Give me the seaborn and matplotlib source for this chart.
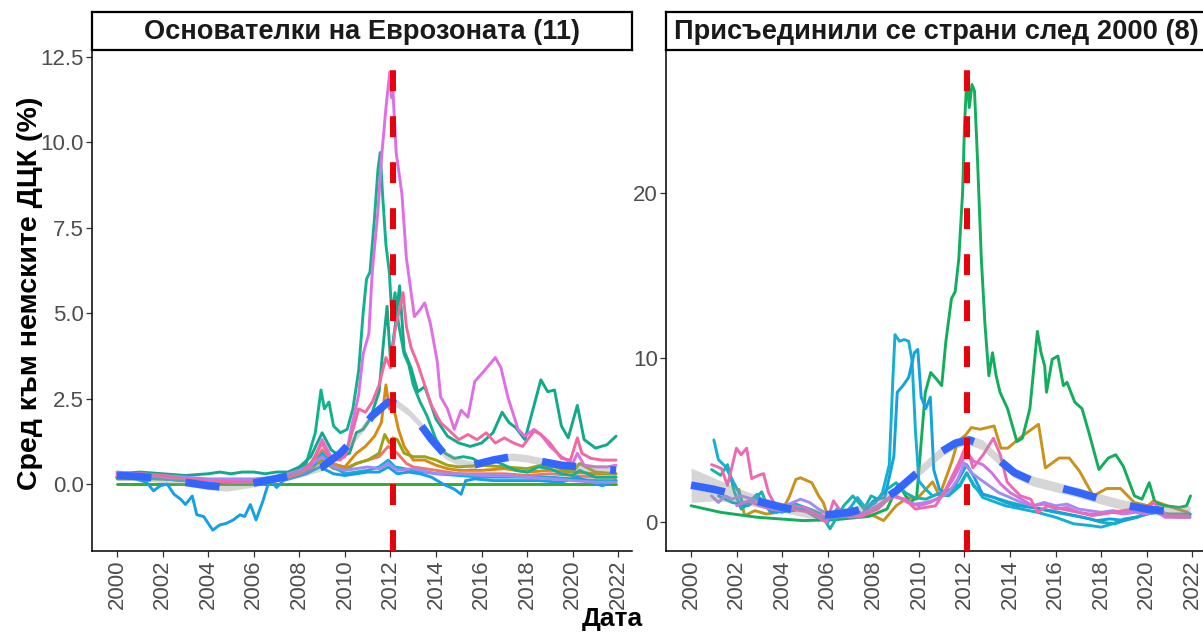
import numpy as np
import pandas as pd
import matplotlib
matplotlib.use("Agg")
import matplotlib.pyplot as plt
import seaborn as sns

# ---------------- data ----------------
x_ticks = list(range(2000, 2023, 2))
left_yticks = [0.0, 2.5, 5.0, 7.5, 10.0, 12.5]
right_yticks = [0, 10, 20]
crisis_year = 2012.1
title_left = "Основателки на Еврозоната (11)"
title_right = "Присъединили се страни след 2000 (8)"
y_label = "Сред към немските ДЦК (%)"
x_label = "Дата"

# Left panel: founding members
L_salmon_x = [2000, 2002, 2004, 2006, 2008, 2008.8, 2009.0, 2009.5, 2010, 2010.5, 2011, 2011.5, 2011.9, 2012.3, 2012.7, 2013, 2014, 2015, 2016, 2017, 2018, 2019, 2020, 2021, 2021.9]
L_salmon_y = [0.2, 0.15, 0.05, 0.05, 0.3, 0.8, 1.0, 0.6, 0.45, 0.6, 0.7, 0.8, 1.1, 0.9, 0.6, 0.5, 0.4, 0.3, 0.3, 0.3, 0.25, 0.3, 0.25, 0.2, 0.2]

L_orange_x = [2000, 2002, 2004, 2006, 2007, 2008, 2008.6, 2009.0, 2009.4, 2010, 2010.5, 2010.9, 2011.3, 2011.6, 2011.8, 2011.95, 2012.15, 2012.35, 2012.6, 2013.0, 2013.5, 2014, 2014.5, 2015, 2016, 2017, 2018, 2019, 2020, 2021, 2021.9]
L_orange_y = [0.2, 0.2, 0.1, 0.1, 0.15, 0.3, 0.5, 0.9, 0.6, 0.5, 0.9, 1.1, 1.4, 1.8, 2.9, 2.2, 2.2, 1.6, 1.1, 0.7, 0.7, 0.55, 0.45, 0.4, 0.4, 0.45, 0.35, 0.4, 0.35, 0.3, 0.3]

L_olive_x = [2000, 2002, 2004, 2006, 2007, 2008, 2008.6, 2009.0, 2009.5, 2010, 2010.5, 2011, 2011.5, 2011.75, 2011.95, 2012.1, 2012.3, 2012.6, 2013, 2013.5, 2014, 2014.5, 2015, 2016, 2017, 2018, 2018.6, 2019.2, 2020, 2020.3, 2021, 2021.9]
L_olive_y = [0.15, 0.15, 0.05, 0.05, 0.1, 0.25, 0.5, 0.7, 0.45, 0.4, 0.6, 0.7, 0.9, 1.45, 1.2, 1.35, 1.3, 0.9, 0.8, 0.8, 0.7, 0.55, 0.5, 0.55, 0.5, 0.45, 0.55, 0.5, 0.35, 0.6, 0.35, 0.3]

L_germany_x = [2000, 2005, 2010, 2015, 2021.9]
L_germany_y = [0.0, 0.0, 0.0, 0.0, 0.0]

L_ireland_x = [2000, 2001, 2002, 2003, 2004, 2005, 2006, 2007, 2007.7, 2008.3, 2008.7, 2008.95, 2009.1, 2009.3, 2009.5, 2009.8, 2010.1, 2010.35, 2010.6, 2010.8, 2010.95, 2011.1, 2011.3, 2011.45, 2011.55, 2011.65, 2011.8, 2011.95, 2012.05, 2012.2, 2012.35, 2012.6, 2012.8, 2013.0, 2013.3, 2013.6, 2014.0, 2014.4, 2014.8, 2015.2, 2015.6, 2016.0, 2016.5, 2017.0, 2017.5, 2018.0, 2018.5, 2019.0, 2019.5, 2020.0, 2020.3, 2021.0, 2021.9]
L_ireland_y = [0.2, 0.25, 0.2, 0.1, 0.05, 0.05, 0.05, 0.15, 0.3, 0.6, 1.5, 2.75, 2.2, 2.4, 1.7, 1.5, 1.6, 2.2, 3.3, 5.0, 6.0, 6.2, 7.8, 9.2, 9.7, 8.5, 7.0, 6.2, 5.0, 5.6, 4.7, 3.8, 3.5, 2.9, 2.4, 2.0, 1.3, 0.9, 0.75, 0.8, 0.75, 0.6, 0.7, 0.55, 0.4, 0.35, 0.5, 0.45, 0.3, 0.25, 0.4, 0.2, 0.2]

L_italy_x = [2000, 2001, 2002, 2003, 2004, 2004.5, 2005, 2005.5, 2006, 2006.5, 2007, 2007.5, 2008, 2008.5, 2009.0, 2009.4, 2009.8, 2010.2, 2010.5, 2010.8, 2011.1, 2011.5, 2011.7, 2011.85, 2012.0, 2012.2, 2012.4, 2012.6, 2012.9, 2013.2, 2013.5, 2014.0, 2014.5, 2015.0, 2015.5, 2016.0, 2016.5, 2016.9, 2017.2, 2017.5, 2017.9, 2018.3, 2018.6, 2018.9, 2019.2, 2019.5, 2019.8, 2020.2, 2020.5, 2021.0, 2021.5, 2021.9]
L_italy_y = [0.3, 0.35, 0.3, 0.25, 0.3, 0.35, 0.3, 0.35, 0.35, 0.3, 0.35, 0.35, 0.5, 0.8, 1.5, 1.0, 0.8, 0.9, 1.5, 1.6, 1.9, 2.7, 4.2, 5.2, 3.6, 4.6, 5.8, 3.9, 3.4, 2.7, 2.85, 1.9, 1.4, 1.2, 1.1, 1.2, 1.5, 2.1, 1.8, 1.65, 1.3, 2.3, 3.05, 2.7, 2.75, 1.7, 1.35, 2.3, 1.3, 1.05, 1.15, 1.4]

L_cyan_x = [2000, 2002, 2004, 2006, 2008, 2008.7, 2009.0, 2009.5, 2010, 2011, 2011.5, 2011.9, 2012.2, 2013, 2014, 2015, 2016, 2017, 2018, 2019, 2020, 2021, 2021.9]
L_cyan_y = [0.2, 0.15, 0.05, 0.05, 0.25, 0.6, 0.9, 0.5, 0.3, 0.4, 0.5, 0.7, 0.5, 0.4, 0.3, 0.25, 0.2, 0.2, 0.2, 0.2, 0.15, 0.1, 0.1]

L_blue_x = [2000, 2000.8, 2001.3, 2001.6, 2001.9, 2002.2, 2002.5, 2002.8, 2003.0, 2003.3, 2003.5, 2003.8, 2004.0, 2004.2, 2004.5, 2004.8, 2005.1, 2005.4, 2005.6, 2005.85, 2006.1, 2006.4, 2006.7, 2007.0, 2007.3, 2007.8, 2008.3, 2008.9, 2009.5, 2010, 2010.5, 2011, 2011.5, 2011.9, 2012.3, 2012.8, 2013.3, 2013.8, 2014.3, 2014.8, 2015.1, 2015.3, 2015.7, 2016.5, 2017.5, 2018.5, 2019.5, 2020.2, 2020.8, 2021.3, 2021.9]
L_blue_y = [0.2, 0.15, 0.05, -0.2, -0.05, 0.0, -0.3, -0.45, -0.6, -0.35, -0.9, -0.95, -1.15, -1.35, -1.2, -1.15, -1.05, -0.9, -0.95, -0.6, -1.05, -0.5, 0.15, -0.1, 0.1, 0.2, 0.3, 0.5, 0.3, 0.25, 0.3, 0.35, 0.35, 0.5, 0.3, 0.35, 0.3, 0.2, 0.0, -0.15, -0.3, 0.1, 0.15, 0.1, 0.1, 0.1, 0.05, 0.2, 0.05, -0.05, 0.1]

L_lavender_x = [2000, 2001, 2002, 2003, 2004, 2005, 2006, 2007, 2008, 2008.6, 2009.0, 2009.5, 2010, 2010.5, 2011, 2011.5, 2011.9, 2012.3, 2013, 2014, 2015, 2016, 2017, 2018, 2019, 2020, 2021, 2021.9]
L_lavender_y = [0.35, 0.3, 0.25, 0.2, 0.15, 0.15, 0.15, 0.2, 0.4, 0.6, 0.8, 0.5, 0.4, 0.45, 0.5, 0.45, 0.6, 0.4, 0.45, 0.3, 0.3, 0.25, 0.25, 0.2, 0.15, 0.1, 0.05, 0.05]

L_portugal_x = [2000, 2001, 2002, 2003, 2004, 2005, 2006, 2007, 2008, 2008.5, 2009.0, 2009.4, 2009.8, 2010.1, 2010.3, 2010.6, 2010.8, 2011.05, 2011.2, 2011.45, 2011.6, 2011.8, 2011.97, 2012.05, 2012.1, 2012.25, 2012.5, 2012.7, 2013.05, 2013.3, 2013.5, 2013.75, 2014.05, 2014.2, 2014.5, 2014.8, 2015.1, 2015.4, 2015.7, 2016.1, 2016.6, 2016.85, 2017.15, 2017.6, 2017.9, 2018.3, 2018.6, 2019.0, 2019.5, 2020.0, 2020.2, 2020.5, 2021.0, 2021.5, 2021.9]
L_portugal_y = [0.25, 0.3, 0.2, 0.15, 0.1, 0.1, 0.1, 0.15, 0.3, 0.5, 1.3, 0.8, 0.7, 1.0, 1.7, 2.6, 3.8, 4.4, 6.2, 8.0, 9.5, 11.0, 12.06, 11.3, 11.6, 9.7, 8.5, 6.6, 4.9, 5.1, 5.3, 4.7, 3.6, 2.55, 2.2, 1.6, 2.16, 1.96, 3.0, 3.3, 3.7, 3.4, 2.55, 1.6, 1.4, 1.6, 1.45, 1.1, 0.8, 0.6, 0.9, 0.55, 0.5, 0.5, 0.55]

L_spain_x = [2000, 2001, 2002, 2003, 2004, 2005, 2006, 2007, 2008, 2008.5, 2009.0, 2009.3, 2009.7, 2010.0, 2010.4, 2010.6, 2010.9, 2011.2, 2011.5, 2011.8, 2012.0, 2012.2, 2012.55, 2012.7, 2012.9, 2013.2, 2013.5, 2013.8, 2014.2, 2014.6, 2015.0, 2015.4, 2015.8, 2016.2, 2016.6, 2017.0, 2017.4, 2017.8, 2018.3, 2018.6, 2019.0, 2019.5, 2019.9, 2020.2, 2020.4, 2020.8, 2021.3, 2021.9]
L_spain_y = [0.25, 0.3, 0.25, 0.15, 0.1, 0.05, 0.05, 0.1, 0.3, 0.6, 1.2, 0.8, 0.7, 0.8, 1.7, 2.2, 2.1, 2.4, 2.9, 3.7, 3.4, 4.5, 5.6, 4.6, 4.0, 3.5, 2.9, 2.3, 1.8, 1.55, 1.3, 1.45, 1.3, 1.5, 1.2, 1.35, 1.2, 1.1, 1.55, 1.45, 1.2, 0.75, 0.7, 1.35, 0.9, 0.75, 0.7, 0.7]

L_trend_x = [2000.0, 2001.0, 2002.0, 2003.0, 2004.0, 2004.8, 2005.8, 2006.9, 2008.0, 2009.0, 2009.8, 2010.5, 2011.2, 2011.9, 2012.3, 2012.8, 2013.3, 2013.8, 2014.4, 2015.0, 2015.6, 2016.5, 2017.3, 2018.0, 2018.7, 2019.5, 2020.3, 2021.0, 2021.9]
L_trend_y = [0.25, 0.22, 0.15, 0.05, -0.05, -0.1, 0.0, 0.15, 0.3, 0.5, 0.9, 1.4, 2.0, 2.4, 2.35, 2.1, 1.75, 1.3, 0.85, 0.65, 0.55, 0.7, 0.8, 0.75, 0.65, 0.55, 0.5, 0.45, 0.4]
L_trend_se = [0.15, 0.12, 0.11, 0.11, 0.11, 0.11, 0.11, 0.11, 0.11, 0.11, 0.11, 0.11, 0.11, 0.11, 0.11, 0.11, 0.11, 0.11, 0.11, 0.11, 0.11, 0.11, 0.11, 0.11, 0.11, 0.11, 0.11, 0.12, 0.15]

# Right panel: countries that joined after 2000
R_orange_x = [2002.1, 2002.35, 2002.8, 2003.3, 2003.8, 2004.1, 2004.3, 2004.6, 2004.8, 2005.3, 2005.6, 2005.8, 2005.95, 2006.5, 2007.0, 2007.5, 2008.0, 2008.45, 2009.0, 2009.5, 2009.9, 2010.3, 2010.6, 2010.9, 2011.45, 2011.7, 2012.05, 2012.3, 2012.7, 2013.3, 2013.6, 2013.9, 2014.5, 2015.25, 2015.55, 2016.15, 2016.6, 2017.05, 2017.65, 2018.25, 2018.85, 2019.45, 2020.05, 2020.3, 2020.9, 2021.8]
R_orange_y = [2.0, 0.4, 0.7, 0.5, 0.6, 1.0, 1.5, 2.6, 2.7, 2.4, 1.6, 1.2, 0.6, 0.4, 0.3, 0.5, 0.4, 0.1, 1.0, 1.5, 1.4, 2.0, 2.45, 1.6, 3.7, 4.9, 5.3, 5.75, 5.65, 5.85, 4.5, 4.5, 5.2, 5.95, 3.3, 3.9, 3.9, 3.1, 1.6, 2.05, 2.05, 1.2, 1.0, 1.3, 1.0, 0.6]

R_greece_x = [2000.0, 2001.3, 2002.9, 2004.9, 2006.3, 2007.8, 2008.6, 2009.1, 2009.6, 2009.9, 2010.28, 2010.52, 2010.77, 2011.0, 2011.18, 2011.43, 2011.59, 2011.75, 2011.92, 2012.0, 2012.11, 2012.21, 2012.33, 2012.44, 2012.57, 2012.74, 2012.9, 2013.07, 2013.23, 2013.39, 2013.56, 2013.89, 2014.3, 2014.54, 2014.87, 2015.2, 2015.36, 2015.52, 2015.6, 2015.85, 2016.1, 2016.34, 2016.5, 2016.84, 2017.16, 2017.49, 2017.9, 2018.31, 2018.64, 2018.97, 2019.46, 2019.79, 2020.11, 2020.36, 2020.77, 2021.43, 2021.75, 2021.92]
R_greece_y = [1.0, 0.6, 0.3, 0.1, 0.15, 0.35, 0.8, 2.3, 1.2, 1.5, 7.9, 9.1, 8.7, 8.3, 10.95, 13.6, 14.0, 16.0, 20.1, 24.1, 27.2, 25.2, 26.6, 26.2, 22.1, 16.0, 12.0, 8.9, 10.3, 8.9, 7.9, 6.9, 4.9, 5.1, 6.9, 11.6, 10.3, 9.5, 7.9, 9.9, 10.1, 8.3, 8.5, 7.3, 6.9, 5.3, 3.2, 3.9, 4.1, 3.4, 1.6, 1.4, 2.4, 1.2, 1.0, 0.9, 1.0, 1.6]

R_teal_x = [2000.9, 2001.3, 2001.6, 2001.9, 2002.2, 2002.8, 2003.1, 2003.4, 2004.0, 2004.6, 2005.2, 2005.7, 2006.1, 2006.4, 2006.7, 2007.1, 2007.6, 2007.9, 2008.2, 2008.6, 2009.0, 2009.4, 2009.8, 2010.3, 2010.8, 2011.3, 2011.8, 2012.1, 2012.4, 2012.8, 2013.3, 2014.0, 2014.6, 2015.3, 2016.0, 2016.8, 2017.5, 2018.0, 2018.6, 2019.2, 2019.8, 2020.3, 2021.0, 2021.9]
R_teal_y = [3.2, 2.85, 3.5, 1.85, 0.8, 1.4, 1.85, 0.8, 0.9, 1.1, 0.8, 0.5, -0.4, 0.3, 1.0, 1.6, 0.8, 1.6, 1.4, 2.0, 2.4, 1.8, 1.5, 1.4, 1.7, 1.6, 2.2, 3.0, 2.2, 1.7, 1.5, 1.2, 1.0, 0.8, 0.6, 0.4, 0.2, 0.0, -0.1, 0.2, 0.4, 0.6, 0.5, 0.5]

R_cyan1_x = [2001.0, 2001.2, 2001.5, 2001.8, 2002.1, 2002.3, 2002.6, 2002.9, 2003.1, 2003.5, 2004.0, 2004.5, 2005.0, 2005.5, 2006.0, 2006.4, 2006.9, 2007.3, 2007.7, 2008.1, 2008.4, 2008.7, 2008.85, 2008.95, 2009.15, 2009.35, 2009.55, 2009.7, 2009.85, 2010.0, 2010.3, 2010.6, 2011.0, 2011.4, 2011.8, 2012.1, 2012.4, 2012.8, 2013.2, 2013.8, 2014.5, 2015.2, 2016.0, 2016.8, 2017.5, 2018.0, 2018.5, 2019.0, 2019.5, 2020.0, 2020.5, 2021.0, 2021.9]
R_cyan1_y = [5.0, 3.8, 3.4, 2.6, 1.8, 1.0, 1.3, 1.7, 1.0, 0.8, 0.6, 0.9, 0.7, 0.3, 0.0, 0.8, 0.7, 1.5, 0.8, 1.2, 1.8, 3.5, 8.5, 11.4, 11.0, 11.1, 11.0, 9.8, 5.5, 2.5, 2.0, 1.6, 1.8, 2.0, 2.3, 3.0, 2.3, 1.5, 1.3, 1.0, 0.8, 0.6, 0.3, -0.1, -0.2, -0.3, -0.1, 0.2, 0.3, 0.5, 0.6, 0.4, 0.5]

R_cyan2_x = [2001.2, 2001.8, 2002.5, 2003.0, 2003.5, 2004.5, 2005.0, 2005.5, 2006.0, 2006.5, 2007.0, 2007.5, 2008.0, 2008.5, 2008.9, 2009.05, 2009.3, 2009.55, 2009.8, 2009.95, 2010.1, 2010.3, 2010.5, 2010.65, 2010.9, 2011.3, 2011.7, 2012.1, 2012.4, 2012.8, 2013.3, 2013.8, 2014.3, 2015.0, 2015.8, 2016.5, 2017.2, 2017.8, 2018.4, 2019.0, 2019.6, 2020.2, 2020.6, 2021.2, 2021.9]
R_cyan2_y = [1.6, 1.2, 1.0, 1.5, 0.6, 0.7, 0.9, 0.5, 0.2, 0.3, 0.9, 0.5, 1.3, 1.5, 4.0, 7.9, 8.3, 8.8, 10.3, 10.5, 7.6, 6.9, 7.6, 3.2, 2.0, 1.7, 2.5, 3.5, 2.8, 1.7, 1.5, 1.2, 1.0, 0.9, 0.7, 0.5, 0.3, 0.1, 0.2, 0.1, 0.3, 0.8, 0.5, 0.4, 0.45]

R_lavender_x = [2000.9, 2001.2, 2001.5, 2001.8, 2002.2, 2002.7, 2003.2, 2003.8, 2004.3, 2004.8, 2005.2, 2005.6, 2006.1, 2006.6, 2007.2, 2007.8, 2008.3, 2008.8, 2009.3, 2009.8, 2010.3, 2010.8, 2011.3, 2011.7, 2012.0, 2012.3, 2012.6, 2013.0, 2013.5, 2014.0, 2014.5, 2015.0, 2015.5, 2016.0, 2016.5, 2017.0, 2017.5, 2018.0, 2018.5, 2019.0, 2019.5, 2020.0, 2020.3, 2020.8, 2021.3, 2021.9]
R_lavender_y = [1.6, 1.2, 1.6, 1.4, 1.6, 1.4, 1.1, 1.0, 1.1, 1.4, 1.2, 0.8, 0.4, 0.5, 0.4, 0.7, 1.1, 1.6, 1.4, 1.1, 1.2, 1.4, 1.8, 2.6, 3.6, 3.0, 2.7, 2.3, 1.8, 1.5, 1.2, 1.0, 1.2, 1.0, 1.1, 0.8, 0.7, 0.6, 0.7, 0.6, 0.7, 0.6, 0.9, 0.4, 0.3, 0.3]

R_magenta_x = [2002.0, 2002.5, 2003.0, 2003.5, 2004.0, 2004.5, 2005.0, 2005.5, 2006.0, 2006.5, 2007.0, 2007.5, 2008.0, 2008.5, 2009.0, 2009.5, 2010.0, 2010.5, 2011.0, 2011.5, 2011.8, 2012.1, 2012.4, 2012.8, 2013.2, 2013.6, 2014.0, 2014.5, 2015.0, 2015.5, 2016.0, 2016.5, 2017.0, 2017.5, 2018.0, 2018.5, 2019.0, 2019.5, 2020.0, 2020.3, 2020.8, 2021.3, 2021.9]
R_magenta_y = [1.0, 1.3, 1.0, 0.8, 0.7, 1.0, 0.9, 0.5, 0.3, 0.4, 0.3, 0.5, 0.8, 1.3, 1.6, 1.2, 1.0, 1.2, 1.6, 2.6, 3.4, 4.3, 3.7, 3.5, 3.0, 2.3, 1.8, 1.4, 1.0, 1.1, 0.8, 0.9, 0.6, 0.5, 0.5, 0.6, 0.5, 0.6, 0.5, 0.8, 0.3, 0.3, 0.3]

R_pink_x = [2000.9, 2001.33, 2001.6, 2001.99, 2002.2, 2002.44, 2002.66, 2002.96, 2003.18, 2003.4, 2003.7, 2004.44, 2005.2, 2005.95, 2006.25, 2006.7, 2007.4, 2008.2, 2008.8, 2009.4, 2009.84, 2010.73, 2011.18, 2011.78, 2012.08, 2012.37, 2012.82, 2013.27, 2013.57, 2013.87, 2014.17, 2014.46, 2014.91, 2015.21, 2015.66, 2016.26, 2017.0, 2017.6, 2018.5, 2019.4, 2020.0, 2020.3, 2020.9, 2021.8]
R_pink_y = [3.5, 3.27, 2.24, 4.5, 4.1, 4.5, 2.65, 2.85, 2.95, 1.8, 1.0, 0.8, 0.6, 0.0, 1.3, 0.4, 0.3, 0.8, 1.6, 1.4, 0.8, 1.0, 2.0, 3.7, 4.7, 3.3, 4.1, 5.1, 4.1, 2.45, 2.0, 1.6, 1.4, 0.6, 1.0, 0.8, 0.6, 0.4, 0.6, 0.8, 0.8, 1.2, 0.4, 0.4]

R_trend_x = [2000.0, 2001.0, 2002.0, 2003.0, 2004.0, 2005.0, 2006.0, 2007.0, 2008.0, 2009.0, 2010.0, 2011.0, 2011.6, 2012.2, 2012.8, 2013.5, 2014.2, 2015.0, 2016.0, 2017.0, 2018.0, 2019.0, 2020.0, 2021.0, 2021.9]
R_trend_y = [2.25, 2.0, 1.65, 1.25, 0.9, 0.6, 0.45, 0.6, 1.0, 1.9, 3.1, 4.3, 4.8, 5.0, 4.7, 3.8, 3.0, 2.5, 2.15, 1.8, 1.4, 1.05, 0.8, 0.65, 0.6]
R_trend_se = [1.05, 0.7, 0.45, 0.35, 0.3, 0.3, 0.3, 0.3, 0.3, 0.3, 0.3, 0.3, 0.3, 0.3, 0.3, 0.3, 0.3, 0.3, 0.3, 0.3, 0.3, 0.3, 0.3, 0.32, 0.4]

left_series = [
    ("salmon", L_salmon_x, L_salmon_y, "#F0766B"),
    ("orange", L_orange_x, L_orange_y, "#D98A10"),
    ("olive", L_olive_x, L_olive_y, "#9AA312"),
    ("germany", L_germany_x, L_germany_y, "#2FB02A"),
    ("ireland", L_ireland_x, L_ireland_y, "#10B28E"),
    ("italy", L_italy_x, L_italy_y, "#12A98A"),
    ("cyan", L_cyan_x, L_cyan_y, "#10B0D8"),
    ("blue", L_blue_x, L_blue_y, "#149FE8"),
    ("lavender", L_lavender_x, L_lavender_y, "#A688F5"),
    ("portugal", L_portugal_x, L_portugal_y, "#DE6FE6"),
    ("spain", L_spain_x, L_spain_y, "#F2689F"),
]
right_series = [
    ("orange", R_orange_x, R_orange_y, "#C9921A"),
    ("greece", R_greece_x, R_greece_y, "#12AE5E"),
    ("teal", R_teal_x, R_teal_y, "#12B5A8"),
    ("cyan1", R_cyan1_x, R_cyan1_y, "#14AFD2"),
    ("cyan2", R_cyan2_x, R_cyan2_y, "#12A2E0"),
    ("lavender", R_lavender_x, R_lavender_y, "#A38CEF"),
    ("magenta", R_magenta_x, R_magenta_y, "#D470E0"),
    ("pink", R_pink_x, R_pink_y, "#EE68B4"),
]

# ---------------- figure ----------------
sns.set_theme(style="white")
plt.rcParams['font.family'] = ['Liberation Sans', 'DejaVu Sans']

W, H = 1203, 636
fig = plt.figure(figsize=(W / 100, H / 100), dpi=100)
fig.patch.set_facecolor("white")

def fx(px):
    return px / W

def fy(py):
    return 1 - py / H

P_TOP, P_BOT = 50, 551
axL = fig.add_axes([fx(92), fy(P_BOT), (632 - 92) / W, (P_BOT - P_TOP) / H])
axR = fig.add_axes([fx(666), fy(P_BOT), (1206 - 666) / W, (P_BOT - P_TOP) / H])


def long_df(series):
    rows = []
    for name, xs, ys, _ in series:
        for a, b in zip(xs, ys):
            rows.append((name, a, b))
    return pd.DataFrame(rows, columns=["country", "year", "value"])


def draw_panel(ax, series, tx, ty, tse, ylim, yticks, yfmt):
    df = long_df(series)
    pal = {n: c for n, _, _, c in series}
    order = [n for n, _, _, _ in series]
    sns.lineplot(data=df, x="year", y="value", hue="country", hue_order=order,
                 palette=pal, estimator=None, sort=False, legend=False,
                 linewidth=2.1, ax=ax)
    tdf = pd.DataFrame({"year": tx, "value": ty, "se": tse})
    ax.fill_between(tdf["year"], tdf["value"] - tdf["se"], tdf["value"] + tdf["se"],
                    color="#999999", alpha=0.4, linewidth=0, zorder=3)
    sns.lineplot(data=tdf, x="year", y="value", color="#3366FF", linewidth=5.5,
                 estimator=None, sort=False, ax=ax, zorder=4)
    ax.lines[-1].set_dashes([4.5, 4.5])
    ax.axvline(crisis_year, color="#E8000B", linewidth=4.3, dashes=(3.5, 4.2), zorder=5)

    ax.set_xlim(1998.9, 2022.6)
    ax.set_ylim(*ylim)
    ax.set_xticks(x_ticks)
    ax.set_xticklabels([str(t) for t in x_ticks], rotation=90)
    ax.set_yticks(yticks)
    ax.set_yticklabels([yfmt.format(t) for t in yticks])
    ax.set_xlabel("")
    ax.set_ylabel("")
    ax.grid(False)
    ax.set_facecolor("white")
    for s in ["top", "right"]:
        ax.spines[s].set_visible(False)
    for s in ["left", "bottom"]:
        ax.spines[s].set_color("black")
        ax.spines[s].set_linewidth(1.1)
    ax.tick_params(axis="both", direction="out", length=4, width=0.9,
                   color="#333333", labelsize=16, labelcolor="#4D4D4D", pad=2,
                   left=True, bottom=True)


draw_panel(axL, left_series, L_trend_x, L_trend_y, L_trend_se,
           (-1.96, 12.70), left_yticks, "{:.1f}")
draw_panel(axR, right_series, R_trend_x, R_trend_y, R_trend_se,
           (-1.75, 28.7), right_yticks, "{:d}")

# strips
for x0, x1, title in [(92, 632, title_left), (666, 1206, title_right)]:
    st = fig.add_axes([fx(x0), fy(P_TOP), (x1 - x0) / W, (P_TOP - 12) / H])
    st.set_xticks([])
    st.set_yticks([])
    st.set_facecolor("white")
    for s in st.spines.values():
        s.set_visible(True)
        s.set_color("black")
        s.set_linewidth(1.6)
    st.text(0.5, 0.47, title, ha="center", va="center", fontsize=19.6,
            fontweight="bold", color="#1A1A1A", transform=st.transAxes)

fig.text(fx(30), fy(293), y_label, rotation=90, ha="center", va="center",
         fontsize=20.5, fontweight="bold", color="black")
fig.text(fx(612), fy(619), x_label, ha="center", va="center",
         fontsize=19, fontweight="bold", color="black")

fig.savefig("out.png", dpi=100, facecolor="white")
